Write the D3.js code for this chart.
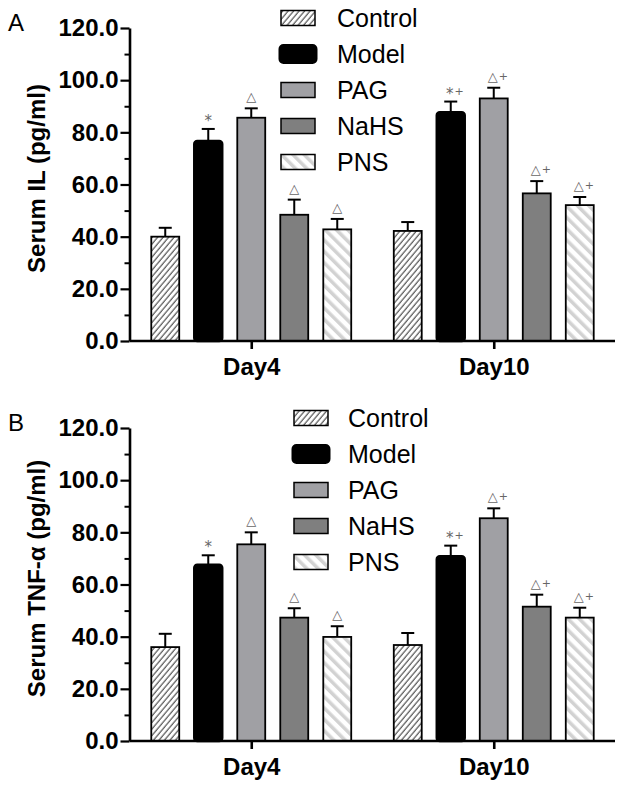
<!DOCTYPE html>
<html><head><meta charset="utf-8">
<script src="https://cdn.jsdelivr.net/npm/d3@7"></script>
<style>body{margin:0;background:#fff}svg{display:block}</style>
</head><body>
<script>
const groups = ["Day4", "Day10"];
const series = ["Control", "Model", "PAG", "NaHS", "PNS"];
const yTicks = [0, 20, 40, 60, 80, 100, 120];
const yMinorTicks = [10, 30, 50, 70, 90, 110];

// Panel A: Serum IL
const ilDay4 = [40.0, 76.7, 85.6, 48.4, 42.8];
const ilDay4Err = [3.4, 4.6, 3.6, 5.8, 4.0];
const ilDay10 = [42.2, 87.7, 93.0, 56.6, 52.1];
const ilDay10Err = [3.4, 4.1, 4.1, 4.7, 3.1];
const ilDay4Marks = ["", "*", "△", "△", "△"];
const ilDay10Marks = ["", "*+", "△+", "△+", "△+"];

// Panel B: Serum TNF-α
const tnfDay4 = [36.0, 67.6, 75.4, 47.3, 39.9];
const tnfDay4Err = [5.1, 3.6, 4.6, 3.6, 4.1];
const tnfDay10 = [36.8, 70.8, 85.4, 51.5, 47.3];
const tnfDay10Err = [4.6, 4.1, 3.8, 4.6, 3.8];
const tnfDay4Marks = ["", "*", "△", "△", "△"];
const tnfDay10Marks = ["", "*+", "△+", "△+", "△+"];

const W = 624, H = 788;
const svg = d3.select("body").append("svg").attr("width", W).attr("height", H);
const defs = svg.append("defs");

const pc = defs.append("pattern").attr("id", "hatchCtrl").attr("patternUnits", "userSpaceOnUse")
  .attr("width", 4.2).attr("height", 10).attr("patternTransform", "rotate(40)");
pc.append("rect").attr("width", 4.2).attr("height", 10).attr("fill", "#fff");
pc.append("line").attr("x1", 1).attr("x2", 1).attr("y1", 0).attr("y2", 10).attr("stroke", "#444").attr("stroke-width", 1.1);

const pp = defs.append("pattern").attr("id", "hatchPNS").attr("patternUnits", "userSpaceOnUse")
  .attr("width", 8).attr("height", 10).attr("patternTransform", "rotate(-45)");
pp.append("rect").attr("width", 8).attr("height", 10).attr("fill", "#fff");
pp.append("rect").attr("x", 0).attr("width", 3.5).attr("height", 10).attr("fill", "#d2d2d2");

const fills = ["url(#hatchCtrl)", "#000", "#a0a0a4", "#7f7f7f", "url(#hatchPNS)"];

const panels = [
  { top: 0, letter: "A", title: "Serum IL (pg/ml)", means: [ilDay4, ilDay10], errs: [ilDay4Err, ilDay10Err],
    marks: [ilDay4Marks, ilDay10Marks], legX: 281, legTextX: 337 },
  { top: 400, letter: "B", title: "Serum TNF-α (pg/ml)", means: [tnfDay4, tnfDay10], errs: [tnfDay4Err, tnfDay10Err],
    marks: [tnfDay4Marks, tnfDay10Marks], legX: 294, legTextX: 348 }
];

const x0 = d3.scalePoint().domain(groups).range([130, 615]).padding(0.5);
const x1 = d3.scaleBand().domain(series).range([-107.5, 107.5]).paddingInner(0.35).paddingOuter(0.175);

panels.forEach(p => {
  const g = svg.append("g").attr("transform", `translate(0,${p.top})`);
  const y = d3.scaleLinear().domain([0, 120]).range([341, 28]);

  groups.forEach((grp, gi) => {
    const gg = g.append("g").attr("transform", `translate(${x0(grp)},0)`);
    const data = series.map((s, i) => ({ s, i, v: p.means[gi][i], e: p.errs[gi][i], m: p.marks[gi][i] }));
    const cx = d => x1(d.s) + x1.bandwidth() / 2;
    gg.selectAll("line.err").data(data).join("line")
      .attr("x1", cx).attr("x2", cx)
      .attr("y1", d => y(d.v)).attr("y2", d => y(d.v + d.e))
      .attr("stroke", "#000").attr("stroke-width", 2);
    gg.selectAll("line.cap").data(data).join("line")
      .attr("x1", d => cx(d) - 6.5).attr("x2", d => cx(d) + 6.5)
      .attr("y1", d => y(d.v + d.e)).attr("y2", d => y(d.v + d.e))
      .attr("stroke", "#000").attr("stroke-width", 2);
    gg.selectAll("rect.bar").data(data).join("rect")
      .attr("x", d => x1(d.s)).attr("width", x1.bandwidth())
      .attr("y", d => y(d.v)).attr("height", d => y(0) - y(d.v))
      .attr("rx", d => d.i === 1 ? 3 : 0)
      .attr("fill", d => fills[d.i]).attr("stroke", "#000").attr("stroke-width", d => d.i === 1 ? 2.5 : 1.8);
    const mk = gg.selectAll("text.mk").data(data.filter(d => d.m)).join("text")
      .attr("x", d => cx(d) + (d.m.length > 1 ? 4 : 0))
      .attr("y", d => y(d.v + d.e) - (d.m[0] === "*" ? 3 : 7))
      .attr("text-anchor", "middle")
      .attr("font-family", "DejaVu Sans, sans-serif")
      .attr("fill", "#666");
    mk.append("tspan").text(d => d.m[0])
      .attr("font-size", d => d.m[0] === "*" ? 15 : 13);
    mk.filter(d => d.m.length > 1).append("tspan").text(d => d.m.slice(1))
      .attr("font-size", 11).attr("dx", 1).attr("dy", d => d.m[0] === "*" ? -4 : -1);
  });

  const xa = g.append("g").attr("transform", `translate(0,${y(0)})`)
    .call(d3.axisBottom(x0).tickSize(8).tickPadding(9).tickSizeOuter(0));
  xa.select(".domain").attr("stroke-width", 2.6).attr("d", "M130,0H615");
  xa.selectAll(".tick line").attr("stroke-width", 2.6);
  xa.selectAll(".tick text").attr("font-family", "Liberation Sans, Arial, sans-serif")
    .attr("font-weight", "bold").attr("font-size", 24).attr("fill", "#000");

  const ya = g.append("g").attr("transform", "translate(129.5,0)")
    .call(d3.axisLeft(y).tickValues(yTicks).tickFormat(d3.format(".1f")).tickSize(9).tickPadding(2).tickSizeOuter(0));
  ya.select(".domain").attr("stroke-width", 2.6);
  ya.selectAll(".tick line").attr("stroke-width", 2.2);
  ya.selectAll(".tick text").attr("font-family", "Liberation Sans, Arial, sans-serif")
    .attr("font-weight", "bold").attr("font-size", 24).attr("fill", "#000");
  const ym = g.append("g").attr("transform", "translate(129.5,0)")
    .call(d3.axisLeft(y).tickValues(yMinorTicks).tickFormat("").tickSize(5).tickSizeOuter(0));
  ym.select(".domain").remove();
  ym.selectAll(".tick line").attr("stroke-width", 2);

  g.append("text").attr("transform", `translate(45,${(y(0) + y(120)) / 2 - 6}) rotate(-90)`)
    .attr("text-anchor", "middle").attr("font-family", "Liberation Sans, Arial, sans-serif")
    .attr("font-weight", "bold").attr("font-size", 24).text(p.title);

  g.append("text").attr("x", 8).attr("y", 31).attr("font-family", "Liberation Sans, Arial, sans-serif")
    .attr("font-size", 24).text(p.letter);

  const leg = g.append("g");
  const rowY = d3.scalePoint().domain(series).range([18, 162]);
  series.forEach((s, i) => {
    const cy = rowY(s);
    if (i === 1) {
      leg.append("rect").attr("x", p.legX - 1.5).attr("y", cy - 9).attr("width", 37).attr("height", 18).attr("rx", 4)
        .attr("fill", "#000").attr("stroke", "#000").attr("stroke-width", 2);
    } else {
      leg.append("rect").attr("x", p.legX).attr("y", cy - 7.5).attr("width", 34).attr("height", 15)
        .attr("fill", fills[i]).attr("stroke", "#000").attr("stroke-width", 1.5);
    }
    leg.append("text").attr("x", p.legTextX).attr("y", cy + 9)
      .attr("font-family", "Liberation Sans, Arial, sans-serif").attr("font-size", 25).text(s);
  });
});
</script>
</body></html>
